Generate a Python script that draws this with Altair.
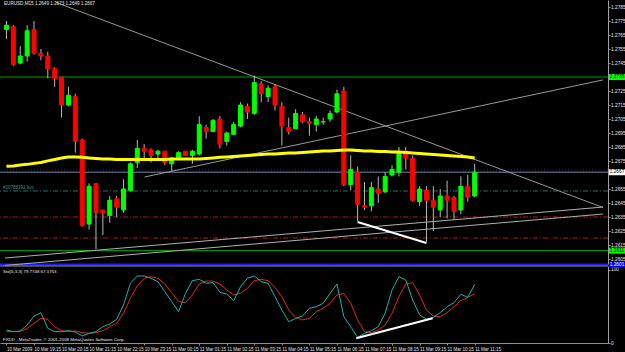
import altair as alt
import pandas as pd

# ------------------------------------------------------------------ data
time_labels = ["10 Mar 2009", "10 Mar 19:15", "10 Mar 20:15", "10 Mar 21:15",
               "10 Mar 22:15", "10 Mar 23:15", "11 Mar 00:15", "11 Mar 01:15",
               "11 Mar 02:15", "11 Mar 03:15", "11 Mar 04:15", "11 Mar 05:15",
               "11 Mar 06:15", "11 Mar 07:15", "11 Mar 08:15", "11 Mar 09:15",
               "11 Mar 10:15", "11 Mar 11:15"]

opens = [1.2769, 1.2771, 1.2745, 1.2750, 1.2769, 1.2752, 1.2750, 1.2741, 1.2735, 1.2715,
         1.2721, 1.2690, 1.2630, 1.2659, 1.2640, 1.2636, 1.2648, 1.2640, 1.2654, 1.2674,
         1.2684, 1.2683, 1.2680, 1.2682, 1.2673, 1.2677, 1.2682, 1.2679, 1.2680, 1.2699,
         1.2696, 1.2705, 1.2689, 1.2694, 1.2700, 1.2714, 1.2709, 1.2730, 1.2721, 1.2728,
         1.2714, 1.2699, 1.2698, 1.2708, 1.2703, 1.2701, 1.2703, 1.2705, 1.2710, 1.2725,
         1.2658, 1.2667, 1.2643, 1.2643, 1.2655, 1.2653, 1.2665, 1.2667, 1.2682, 1.2677,
         1.2646, 1.2654, 1.2647, 1.2640, 1.2650, 1.2649, 1.2640, 1.2657, 1.2650]
highs = [1.2775, 1.2772, 1.2757, 1.2772, 1.2775, 1.2755, 1.2753, 1.2742, 1.2735, 1.2728,
         1.2723, 1.2691, 1.2659, 1.2659, 1.2640, 1.2650, 1.2650, 1.2662, 1.2674, 1.2690,
         1.2687, 1.2684, 1.2683, 1.2682, 1.2678, 1.2682, 1.2682, 1.2683, 1.2707, 1.2701,
         1.2705, 1.2707, 1.2696, 1.2703, 1.2717, 1.2716, 1.2736, 1.2732, 1.2729, 1.2730,
         1.2717, 1.2706, 1.2712, 1.2710, 1.2706, 1.2707, 1.2706, 1.2711, 1.2726, 1.2728,
         1.2679, 1.2671, 1.2660, 1.2660, 1.2664, 1.2667, 1.2672, 1.2685, 1.2685, 1.2679,
         1.2657, 1.2657, 1.2657, 1.2655, 1.2661, 1.2650, 1.2664, 1.2665, 1.2673]
lows = [1.2762, 1.2743, 1.2744, 1.2746, 1.2751, 1.2747, 1.2734, 1.2728, 1.2706, 1.2714,
        1.2681, 1.2628, 1.2626, 1.2612, 1.2622, 1.2631, 1.2635, 1.2638, 1.2653, 1.2670,
        1.2677, 1.2674, 1.2677, 1.2672, 1.2668, 1.2676, 1.2679, 1.2673, 1.2679, 1.2691,
        1.2696, 1.2684, 1.2686, 1.2694, 1.2699, 1.2705, 1.2708, 1.2717, 1.2717, 1.2711,
        1.2686, 1.2694, 1.2698, 1.2702, 1.2693, 1.2696, 1.2701, 1.2703, 1.2709, 1.2657,
        1.2654, 1.2632, 1.2640, 1.2639, 1.2645, 1.2652, 1.2664, 1.2664, 1.2669, 1.2646,
        1.2643, 1.2617, 1.2625, 1.2635, 1.2634, 1.2633, 1.2637, 1.2646, 1.2649]
closes = [1.2772, 1.2744, 1.2750, 1.2768, 1.2752, 1.2750, 1.2741, 1.2734, 1.2715, 1.2722,
          1.2689, 1.2629, 1.2657, 1.2638, 1.2638, 1.2647, 1.2642, 1.2655, 1.2673, 1.2684,
          1.2682, 1.2679, 1.2682, 1.2674, 1.2677, 1.2681, 1.2679, 1.2682, 1.2701, 1.2696,
          1.2704, 1.2687, 1.2695, 1.2701, 1.2715, 1.2710, 1.2731, 1.2723, 1.2727, 1.2715,
          1.2700, 1.2696, 1.2709, 1.2703, 1.2702, 1.2705, 1.2703, 1.2709, 1.2723, 1.2658,
          1.2669, 1.2644, 1.2642, 1.2656, 1.2652, 1.2664, 1.2669, 1.2681, 1.2677, 1.2647,
          1.2655, 1.2647, 1.2642, 1.2650, 1.2647, 1.2639, 1.2657, 1.2649, 1.2667]

ma_values = [1.26712, 1.26715, 1.26722, 1.26726, 1.26733, 1.26740, 1.26751, 1.26761, 1.26772, 1.26779,
             1.26779, 1.26776, 1.26772, 1.26768, 1.26765, 1.26765, 1.26761, 1.26761, 1.26761, 1.26761,
             1.26761, 1.26761, 1.26761, 1.26761, 1.26765, 1.26765, 1.26765, 1.26765, 1.26765, 1.26768,
             1.26772, 1.26776, 1.26779, 1.26783, 1.26786, 1.26790, 1.26793, 1.26797, 1.26800, 1.26800,
             1.26804, 1.26807, 1.26807, 1.26811, 1.26815, 1.26818, 1.26822, 1.26822, 1.26825, 1.26829,
             1.26829, 1.26825, 1.26822, 1.26822, 1.26818, 1.26818, 1.26815, 1.26815, 1.26811, 1.26807,
             1.26804, 1.26800, 1.26797, 1.26793, 1.26790, 1.26786, 1.26783, 1.26779, 1.26772]

sto_main = [17.7, 15.5, 16.4, 24.5, 36.8, 41.4, 20.0, 15.5, 15.5, 16.8,
            15.0, 9.5, 13.2, 15.5, 22.3, 25.9, 32.3, 51.8, 81.4, 91.4,
            91.4, 88.2, 83.6, 70.0, 56.4, 42.7, 67.7, 85.0, 86.8, 81.4,
            82.3, 69.1, 66.8, 57.7, 76.8, 88.2, 91.4, 83.6, 81.4, 63.2,
            45.0, 29.1, 33.6, 36.8, 47.3, 49.5, 54.1, 67.7, 80.5, 35.9,
            22.3, 7.7, 13.2, 16.8, 22.3, 40.5, 72.3, 90.5, 85.9, 58.6,
            38.2, 32.3, 35.0, 41.4, 49.5, 55.0, 66.4, 62.3, 79.8]
sto_signal = [15.5, 15.5, 15.5, 20.0, 26.8, 33.6, 32.3, 22.3, 16.8, 15.5,
              16.4, 14.1, 13.2, 14.1, 16.8, 22.3, 26.8, 40.5, 60.9, 77.7,
              88.2, 90.5, 88.2, 80.5, 68.6, 56.4, 55.0, 65.5, 80.5, 84.5,
              84.5, 80.5, 72.3, 65.5, 67.7, 74.5, 85.0, 86.8, 85.0, 75.9,
              63.2, 45.0, 35.0, 31.4, 33.6, 42.7, 47.3, 54.1, 65.5, 67.7,
              54.1, 31.4, 15.5, 14.1, 17.7, 24.5, 40.5, 63.2, 80.5, 82.3,
              65.5, 45.0, 36.8, 35.9, 41.4, 49.5, 57.7, 62.3, 67.2]

# price labels on the right (1.2735 and 1.2665 sit under the green / bid boxes)
price_ticks = [1.2605, 1.2615, 1.2625, 1.2635, 1.2645, 1.2655, 1.2675, 1.2685, 1.2695,
               1.2705, 1.2715, 1.2725, 1.2745, 1.2755, 1.2765, 1.2775, 1.2785]
sto_ticks = [0, 100]

# trend lines on the price chart (bar index / price of both ends)
tl_bar1 = [7.21, 20.07, -0.214, -0.214]
tl_p1 = [1.27882, 1.26636, 1.26057, 1.26004]
tl_bar2 = [86.64, 86.64, 86.64, 86.64]
tl_p2 = [1.26418, 1.27329, 1.26421, 1.26371]
tl_color = ["#9a9a9a", "#9a9a9a", "#b0b0b0", "#b0b0b0"]

# divergence lines (white)
div_price_bar = [51, 61]
div_price = [1.26314, 1.26164]
div_sto_bar = [50.8, 61.9]
div_sto = [6.4, 33.7]

# horizontal levels
hl_price = [1.2735, 1.2611, 1.2601, 1.2635, 1.2620, 1.26536, 1.26686, 1.2667]
hl_color = ["#00a000", "#00a000", "#1a1aff", "#b01818", "#b01818", "#2a6e6e", "#23308a", "#7a8aa0"]
hl_width = [1, 1, 2, 1, 1, 1, 1, 1]
hl_style = ["solid", "solid", "solid", "dashdot", "dashdot", "dashdot", "dot", "solid"]

box_price = [1.2735, 1.2667, 1.2611, 1.2601]
box_text = ["1.2735", "1.2667", "1.2611", "1.2601"]
box_fill = ["#00ff00", "#ffffff", "#00ff00", "#0000ff"]
box_ink = ["#000000", "#000000", "#000000", "#ffffff"]

title_text = "EURUSD,M15  1.2649 1.2673 1.2649 1.2667"
order_text = "#20785392 buy"
sto_text = "Sto(5,3,3) 79.7748 67.1753"
copy_text = "FXDD - MetaTrader, \u00a9 2001-2008 MetaQuotes Software Corp."

# ------------------------------------------------------------------ scales / encodings
FONT = "Liberation Sans"
X_DOMAIN = [-0.2143, 86.643]
PRICE_DOMAIN = [1.260143, 1.2790]
PRICE_RANGE = [264, 0]
STO_DOMAIN = [0, 105]
STO_RANGE = [343, 266]

label_js = "[" + ",".join("'" + t + "'" for t in time_labels) + "][round(datum.value/4)]"
x_axis = alt.Axis(values=list(range(0, 69, 4)), labelExpr=label_js, labelAlign="left",
                  labelFont=FONT, labelFontSize=4.5, labelColor="#e6e6e6", labelPadding=1,
                  tickSize=2, tickColor="#909090", domainColor="#909090", grid=False,
                  title=None, labelOverlap=False, labelFlush=False, labelBound=False)


def X(field="i"):
    return alt.X(f"{field}:Q", scale=alt.Scale(domain=X_DOMAIN, nice=False, zero=False), axis=x_axis)


price_axis = alt.Axis(orient="right", values=price_ticks, format=".4f", title=None, grid=False,
                      labelFont=FONT, labelFontSize=4.8, labelColor="#e6e6e6", labelPadding=0.5,
                      tickSize=2, tickColor="#909090", domainColor="#a0a0a0",
                      labelOverlap=False, labelBound=False, labelFlush=False)
sto_axis = alt.Axis(orient="right", values=sto_ticks, format="d", title=None, grid=False,
                    labelFont=FONT, labelFontSize=4.8, labelColor="#e6e6e6", labelPadding=0.5,
                    tickSize=2, tickColor="#909090", domainColor="#a0a0a0",
                    labelOverlap=False, labelBound=False, labelFlush=False)


def PY(field):
    return alt.Y(f"{field}:Q", scale=alt.Scale(domain=PRICE_DOMAIN, range=PRICE_RANGE, nice=False, zero=False),
                 axis=price_axis)


def SY(field):
    return alt.Y(f"{field}:Q", scale=alt.Scale(domain=STO_DOMAIN, range=STO_RANGE, nice=False, zero=False),
                 axis=sto_axis)


# ------------------------------------------------------------------ tables
n = len(opens)
candles = pd.DataFrame({"i": list(range(n)), "o": opens, "h": highs, "l": lows, "c": closes})
candles["dir"] = ["up" if c >= o else "down" for o, c in zip(opens, closes)]
ma_df = pd.DataFrame({"i": list(range(n)), "v": ma_values})
sto_df = pd.DataFrame({"i": list(range(n)), "m": sto_main, "s": sto_signal})
tl_df = pd.DataFrame({"i": tl_bar1, "p": tl_p1, "i2": tl_bar2, "p2": tl_p2, "col": tl_color})
div_df = pd.DataFrame({"i": [div_price_bar[0]], "p": [div_price[0]], "i2": [div_price_bar[1]], "p2": [div_price[1]]})
div_sto_df = pd.DataFrame({"i": [div_sto_bar[0]], "v": [div_sto[0]], "i2": [div_sto_bar[1]], "v2": [div_sto[1]]})
box_df = pd.DataFrame({"p": box_price, "t": box_text, "fill": box_fill, "ink": box_ink})

dir_scale = alt.Scale(domain=["up", "down"], range=["#00ff00", "#ff0000"])

# ------------------------------------------------------------------ price layers
dash_map = {"solid": [1, 0], "dashdot": [5, 2, 1, 2], "dot": [1, 2]}
hl_layers = []
for p, col, w, st in zip(hl_price, hl_color, hl_width, hl_style):
    hl_layers.append(
        alt.Chart(pd.DataFrame({"p": [p]})).mark_rule(color=col, strokeWidth=w, strokeDash=dash_map[st])
        .encode(y=PY("p"))
    )

trend = alt.Chart(tl_df).mark_rule(strokeWidth=1, clip=True).encode(
    x=X(), x2="i2:Q", y=PY("p"), y2="p2:Q", color=alt.Color("col:N", scale=None))

wicks = alt.Chart(candles).mark_rule(color="#b8b8b8", strokeWidth=1, clip=True).encode(
    x=X(), y=PY("l"), y2="h:Q")
bodies = alt.Chart(candles).mark_bar(size=4, strokeWidth=1, clip=True).encode(
    x=X(), y=PY("o"), y2="c:Q",
    color=alt.Color("dir:N", scale=dir_scale, legend=None),
    stroke=alt.Stroke("dir:N", scale=dir_scale, legend=None))

ma_line = alt.Chart(ma_df).mark_line(color="#ffff00", strokeWidth=3, clip=True).encode(x=X(), y=PY("v"))

div_line = alt.Chart(div_df).mark_rule(color="#ffffff", strokeWidth=2).encode(
    x=X(), x2="i2:Q", y=PY("p"), y2="p2:Q")

order_label = alt.Chart(pd.DataFrame({"p": [hl_price[5]], "t": [order_text]})).mark_text(
    align="left", baseline="bottom", dy=-1, font=FONT, fontSize=4.5, color="#3c9090").encode(
    x=alt.value(3), y=PY("p"), text="t:N")

boxes = alt.Chart(box_df).mark_point(
    shape="M-1,-0.38L1,-0.38L1,0.38L-1,0.38Z", size=256, filled=True, opacity=1,
    strokeWidth=0, clip=False).encode(
    x=alt.value(617), y=PY("p"), color=alt.Color("fill:N", scale=None))
box_labels = alt.Chart(box_df).mark_text(font=FONT, fontSize=4.8, clip=False, baseline="middle",
                                         align="center").encode(
    x=alt.value(617), y=PY("p"), text="t:N", color=alt.Color("ink:N", scale=None))

price_panel = alt.layer(*hl_layers, trend, wicks, bodies, ma_line, div_line,
                        order_label, boxes, box_labels)

# ------------------------------------------------------------------ stochastic layers
sep = alt.Chart(pd.DataFrame({"v": [105]})).mark_rule(color="#909090", strokeWidth=1).encode(y=SY("v"))
sig_line = alt.Chart(sto_df).mark_line(color="#e02828", strokeWidth=1).encode(x=X(), y=SY("s"))
main_line = alt.Chart(sto_df).mark_line(color="#20b2aa", strokeWidth=1).encode(x=X(), y=SY("m"))
div_sto_line = alt.Chart(div_sto_df).mark_rule(color="#ffffff", strokeWidth=2).encode(
    x=X(), x2="i2:Q", y=SY("v"), y2="v2:Q")

sto_panel = alt.layer(sep, sig_line, main_line, div_sto_line)

# ------------------------------------------------------------------ texts
texts = []
for t, xx, yy, fs in [(title_text, 4, 4, 4.6), (sto_text, 3, 271.5, 4.4), (copy_text, 3, 340, 4.4)]:
    texts.append(alt.Chart(pd.DataFrame({"t": [t]})).mark_text(
        align="left", baseline="middle", font=FONT, fontSize=fs, color="#e8e8e8").encode(
        x=alt.value(xx), y=alt.value(yy), text="t:N"))

chart = alt.layer(price_panel, sto_panel, *texts).resolve_scale(y="independent").properties(
    width=608, height=343,
    autosize=alt.AutoSizeParams(type="none"),
    padding={"left": 0, "top": 0, "right": 17, "bottom": 9},
    background="#000000",
).configure_view(stroke=None)

chart.save("out.html", embed_options={"renderer": "svg", "actions": False})
